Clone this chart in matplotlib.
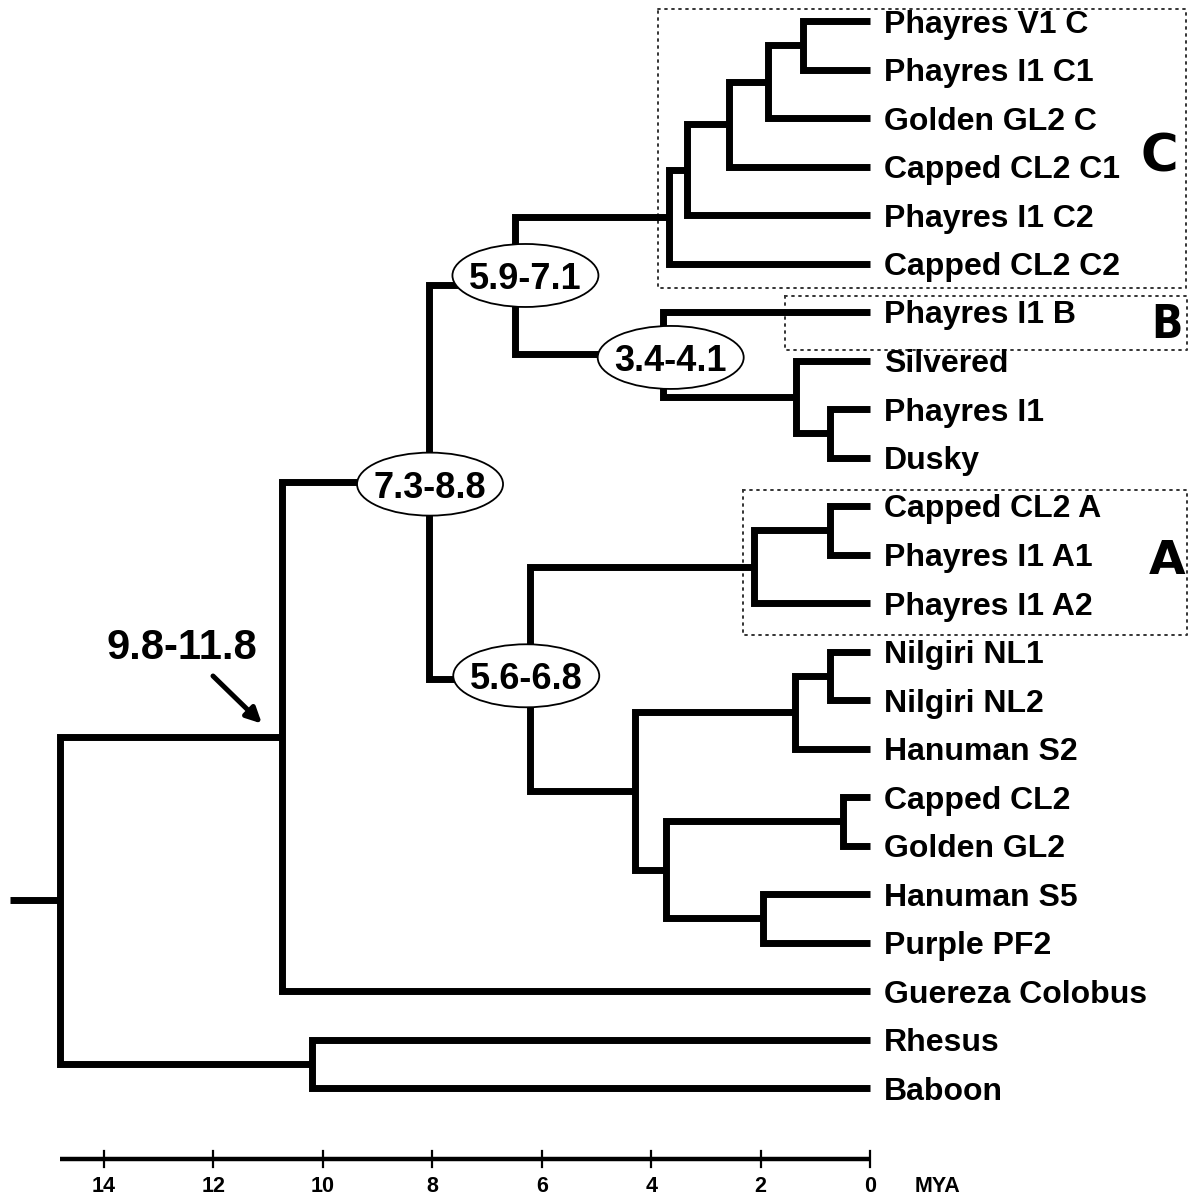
import matplotlib
matplotlib.use('Agg')
import matplotlib.pyplot as plt
from matplotlib.patches import Ellipse

plt.rcParams['font.family'] = ['Liberation Sans', 'DejaVu Sans']

# ---------------- data ----------------
leaves = ['Phayres V1 C', 'Phayres I1 C1', 'Golden GL2 C', 'Capped CL2 C1',
          'Phayres I1 C2', 'Capped CL2 C2', 'Phayres I1 B', 'Silvered',
          'Phayres I1', 'Dusky', 'Capped CL2 A', 'Phayres I1 A1',
          'Phayres I1 A2', 'Nilgiri NL1', 'Nilgiri NL2', 'Hanuman S2',
          'Capped CL2', 'Golden GL2', 'Hanuman S5', 'Purple PF2',
          'Guereza Colobus', 'Rhesus', 'Baboon']

node_names = ['c5', 'c4', 'c3', 'c2', 'c1', 'pd', 'sil', 'b', 'n59',
              'a1', 'a', 'nl', 'nil', 'cg', 'hp', 'cghp', 'low', 'n56',
              'n73', 'n98', 'rb', 'root']
node_children = [('Phayres V1 C', 'Phayres I1 C1'), ('c5', 'Golden GL2 C'),
                 ('c4', 'Capped CL2 C1'), ('c3', 'Phayres I1 C2'),
                 ('c2', 'Capped CL2 C2'), ('Phayres I1', 'Dusky'),
                 ('Silvered', 'pd'), ('Phayres I1 B', 'sil'), ('c1', 'b'),
                 ('Capped CL2 A', 'Phayres I1 A1'), ('a1', 'Phayres I1 A2'),
                 ('Nilgiri NL1', 'Nilgiri NL2'), ('nl', 'Hanuman S2'),
                 ('Capped CL2', 'Golden GL2'), ('Hanuman S5', 'Purple PF2'),
                 ('cg', 'hp'), ('nil', 'cghp'), ('a', 'low'),
                 ('n59', 'n56'), ('n73', 'Guereza Colobus'),
                 ('Rhesus', 'Baboon'), ('n98', 'rb')]
node_ages = [1.22, 1.86, 2.57, 3.34, 3.67, 0.74, 1.36, 3.78, 6.49,
             0.74, 2.12, 0.73, 1.37, 0.49, 1.95, 3.73, 4.30, 6.21,
             8.06, 10.75, 10.2, 14.8]
root_stem_age = 15.72

interval_labels = ['5.9-7.1', '3.4-4.1', '7.3-8.8', '5.6-6.8']
interval_nodes = ['n59', 'b', 'n73', 'n56']
arrow_label = '9.8-11.8'
arrow_node = 'n98'

clade_letters = ['C', 'B', 'A']
axis_ticks = [14, 12, 10, 8, 6, 4, 2, 0]
axis_unit = 'MYA'

# ---------------- layout helpers (pixel offsets -> data units) ----------------
PX_PER_MYA = 54.71
PX_PER_LEAF = 48.5
X0_PX = 870.0
Y0_PX = 21.0


def t_of(px):
    return (X0_PX - px) / PX_PER_MYA


def i_of(py):
    return (py - Y0_PX) / PX_PER_LEAF


def ddx(px):
    return -px / PX_PER_MYA


def ddy(py):
    return py / PX_PER_LEAF


W, H = 1191, 1198
fig = plt.figure(figsize=(W / 100, H / 100), dpi=100)
ax = fig.add_axes([0, 0, 1, 1])
ax.set_xlim(t_of(0), t_of(W))
ax.set_ylim(i_of(H), i_of(0))
ax.axis('off')

# positions
pos = {name: (0.0, float(i)) for i, name in enumerate(leaves)}
for name, (c1, c2), age in zip(node_names, node_children, node_ages):
    pos[name] = (age, (pos[c1][1] + pos[c2][1]) / 2.0)

LW = 5.0
for name, (c1, c2) in zip(node_names, node_children):
    x, _ = pos[name]
    (x1, y1), (x2, y2) = pos[c1], pos[c2]
    ax.plot([x1, x, x, x2], [y1, y1, y2, y2], color='black', lw=LW,
            solid_joinstyle='miter', solid_capstyle='butt', zorder=2)

rx, ry = pos['root']
ax.plot([root_stem_age, rx], [ry, ry], color='black', lw=LW,
        solid_capstyle='butt', zorder=2)

# leaf labels
for i, name in enumerate(leaves):
    ax.text(ddx(14), i, name, ha='left', va='center_baseline', fontsize=23,
            fontweight='bold', color='black')

# interval ellipses
ell_offsets = {'n59': (10.5, -10), 'b': (7.5, 3), 'n73': (1, 2), 'n56': (-4, -3)}
ew, eh = 146 / PX_PER_MYA, 63 / PX_PER_LEAF
for lab, nd in zip(interval_labels, interval_nodes):
    nx, ny = pos[nd]
    ox, oy = ell_offsets[nd]
    cx, cy = nx + ddx(ox), ny + ddy(oy)
    ax.add_patch(Ellipse((cx, cy), ew, eh, facecolor='white',
                         edgecolor='black', lw=1.3, zorder=4))
    ax.text(cx, cy, lab, ha='center', va='center_baseline', fontsize=26,
            fontweight='bold', zorder=5)

# arrow label
ax_, ay_ = pos[arrow_node]
ax.text(t_of(182), i_of(643), arrow_label, ha='center', va='center_baseline',
        fontsize=30, fontweight='bold')
ax.annotate('', xy=(ax_ + ddx(-20), ay_ + ddy(-13)),
            xytext=(t_of(213), i_of(676)),
            arrowprops=dict(arrowstyle='-|>,head_length=0.9,head_width=0.45',
                            color='black', lw=3.6, shrinkA=0, shrinkB=0))

# dotted clade boxes (pixel layout)
boxes_px = [(658, 9, 1186, 288), (785, 296, 1187, 350), (743, 490, 1187, 635)]
for (l, t, r, b) in boxes_px:
    xs = [t_of(l), t_of(r), t_of(r), t_of(l), t_of(l)]
    ys = [i_of(t), i_of(t), i_of(b), i_of(b), i_of(t)]
    ax.plot(xs, ys, color='#333333', lw=1.4, linestyle=(0, (1, 2.6)),
            dash_capstyle='round', zorder=1)

letter_px = [(1159, 158, 37, 'normal'), (1167, 326, 33, 'condensed'),
             (1167, 562, 34, 'normal')]
for letter, (lx, ly, fs, st) in zip(clade_letters, letter_px):
    ax.text(t_of(lx), i_of(ly), letter, ha='center', va='center',
            fontsize=fs, fontweight='bold', fontstretch=st,
            family=['DejaVu Sans'])

# time axis (scale bar)
axis_y = i_of(1159)
ax.plot([rx, 0], [axis_y, axis_y], color='black', lw=3.2,
        solid_capstyle='butt')
for tk in axis_ticks:
    ax.plot([tk, tk], [i_of(1151), i_of(1167)], color='black', lw=1.6)
    ax.text(tk, i_of(1186), str(tk), ha='center', va='center',
            fontsize=15.5, fontweight='bold',
            family=['Liberation Sans Narrow', 'Liberation Sans'])
ax.text(t_of(937), i_of(1186), axis_unit, ha='center', va='center',
        fontsize=15.5, fontweight='bold',
        family=['Liberation Sans Narrow', 'Liberation Sans'])

fig.savefig('out.png', dpi=100, facecolor='white')
